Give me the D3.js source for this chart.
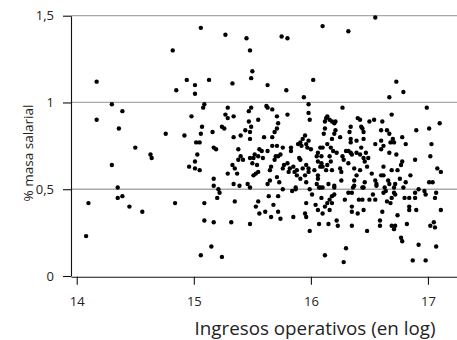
<!DOCTYPE html>
<html><head><meta charset="utf-8">
<script src="https://cdn.jsdelivr.net/npm/d3@7"></script>
<style>body{margin:0;background:#fff}svg{display:block}</style>
</head><body><svg id="c" width="457" height="340"></svg>
<script>
const ingresos = [
14.82,14.17,14.94,14.85,15.01,15.01,15.06,15.27,15.45,15.48,
15.75,15.80,15.50,15.49,15.13,15.33,15.63,16.02,15.79,15.94,
16.55,16.10,16.32,16.73,16.67,16.79,14.30,14.39,14.17,14.98,
14.36,14.76,14.92,14.50,14.63,14.64,14.30,14.96,15.01,15.01,
14.35,14.10,14.35,14.39,14.45,14.56,14.84,14.08,15.09,15.09,
15.17,15.15,15.06,15.24,15.35,15.32,15.48,15.55,15.53,15.56,
15.61,15.64,15.72,15.68,15.66,15.72,15.74,15.85,15.84,15.87,
15.96,15.95,15.96,15.99,16.04,16.06,16.07,15.99,16.01,15.22,
15.20,16.07,16.10,16.09,16.10,16.12,16.16,16.14,16.16,16.18,
16.18,16.20,16.20,16.15,16.22,16.23,16.29,16.32,16.35,16.36,
16.35,16.35,16.40,16.45,16.41,16.44,16.44,16.50,16.53,16.55,
16.56,16.62,16.64,16.63,16.65,16.68,16.69,16.71,16.72,16.71,
16.79,16.61,16.74,16.35,16.48,16.59,16.59,16.69,16.72,16.71,
16.82,16.77,16.78,16.80,16.84,16.84,16.84,16.89,16.89,16.90,
16.92,16.97,16.98,16.92,17.07,17.06,17.11,17.02,17.05,17.06,
17.07,16.30,16.12,16.28,16.87,16.98,15.98,15.09,15.08,15.29,
15.49,15.47,15.62,15.63,15.67,15.27,15.29,15.34,15.55,15.71,
15.80,15.98,15.99,15.47,15.72,15.71,15.69,15.49,15.48,15.48,
15.44,15.40,15.34,15.24,15.26,15.16,15.07,15.06,15.02,15.05,
15.03,15.05,15.17,15.19,15.38,15.40,15.38,15.42,15.48,15.51,
15.52,15.56,15.58,15.60,15.67,15.71,15.76,15.67,15.63,15.59,
15.55,15.54,15.50,15.70,15.72,15.74,15.69,15.66,15.76,15.77,
15.83,15.83,15.80,15.82,15.81,15.85,15.88,15.90,15.91,15.89,
15.91,15.93,15.95,15.96,15.97,15.98,15.92,16.00,15.96,15.93,
15.98,15.98,16.03,16.06,15.95,15.91,15.88,15.86,15.96,15.87,
15.55,15.53,15.51,15.65,15.71,15.73,15.63,15.65,15.33,15.35,
15.29,15.37,15.17,15.17,15.21,15.34,15.39,15.46,15.48,15.76,
16.27,16.99,16.69,16.14,16.13,16.16,16.18,16.20,16.21,16.12,
16.40,16.42,16.50,16.54,16.61,17.10,16.43,16.44,16.45,16.34,
16.12,16.11,16.21,16.20,16.25,16.18,16.33,16.34,16.34,16.39,
16.45,16.60,16.65,16.67,16.90,17.01,16.70,16.68,16.71,16.78,
16.81,16.60,16.55,16.62,16.60,17.03,16.08,16.10,16.06,16.14,
16.17,16.19,16.22,16.30,16.32,16.34,16.35,16.27,16.28,16.32,
16.39,16.42,16.43,16.47,16.49,16.45,16.46,16.48,16.42,16.39,
16.37,16.25,16.26,16.05,16.09,16.06,16.09,16.10,16.08,16.16,
16.17,16.14,16.18,16.13,16.67,16.73,16.62,16.69,16.74,16.77,
16.78,16.85,16.89,17.02,17.08,17.11,16.52,16.60,16.62,16.55,
16.56,16.66,16.67,16.72,16.76,16.81,17.01,17.04,16.46,16.45,
16.37,16.37,16.26,16.20,16.15,16.06,16.05,16.08
];
const masaSalarial = [
1.30,1.12,1.13,1.07,1.10,1.05,1.43,1.39,1.37,1.30,
1.38,1.37,1.18,1.14,1.13,1.11,1.10,1.13,1.07,1.03,
1.49,1.44,1.41,1.12,1.03,1.06,0.99,0.95,0.90,0.92,
0.85,0.82,0.81,0.74,0.70,0.68,0.64,0.63,0.66,0.62,
0.51,0.42,0.45,0.46,0.40,0.37,0.42,0.23,0.42,0.32,
0.31,0.17,0.12,0.11,0.43,0.31,0.30,0.43,0.40,0.36,
0.37,0.46,0.46,0.41,0.34,0.37,0.33,0.34,0.49,0.50,
0.42,0.36,0.34,0.26,0.41,0.38,0.30,0.50,0.47,0.48,
0.45,0.51,0.51,0.45,0.36,0.40,0.38,0.42,0.44,0.46,
0.42,0.47,0.51,0.30,0.32,0.29,0.44,0.48,0.48,0.51,
0.40,0.37,0.36,0.38,0.44,0.44,0.51,0.44,0.47,0.44,
0.52,0.48,0.49,0.51,0.43,0.42,0.45,0.48,0.47,0.51,
0.51,0.37,0.35,0.29,0.26,0.32,0.29,0.29,0.29,0.27,
0.30,0.22,0.20,0.45,0.45,0.40,0.38,0.45,0.48,0.38,
0.50,0.49,0.47,0.18,0.48,0.45,0.38,0.29,0.31,0.28,
0.17,0.16,0.12,0.08,0.09,0.09,0.99,0.99,0.97,0.97,
0.97,0.95,0.98,0.97,0.96,0.93,0.91,0.92,0.90,0.92,
0.93,0.94,0.90,0.89,0.88,0.85,0.83,0.86,0.83,0.79,
0.84,0.81,0.80,0.86,0.85,0.83,0.86,0.82,0.77,0.77,
0.70,0.61,0.74,0.73,0.73,0.69,0.67,0.67,0.68,0.68,
0.70,0.73,0.72,0.80,0.75,0.75,0.74,0.80,0.72,0.68,
0.69,0.64,0.65,0.69,0.69,0.70,0.67,0.63,0.62,0.64,
0.72,0.74,0.65,0.62,0.60,0.63,0.61,0.68,0.67,0.76,
0.77,0.79,0.81,0.76,0.74,0.78,0.75,0.73,0.64,0.62,
0.62,0.60,0.61,0.58,0.58,0.56,0.58,0.60,0.54,0.51,
0.60,0.59,0.58,0.61,0.57,0.54,0.53,0.55,0.64,0.62,
0.59,0.59,0.56,0.52,0.50,0.53,0.52,0.53,0.51,0.50,
0.97,0.97,0.93,0.92,0.91,0.90,0.89,0.88,0.89,0.89,
0.91,0.90,0.89,0.90,0.89,0.88,0.86,0.85,0.83,0.86,
0.85,0.82,0.84,0.82,0.80,0.79,0.83,0.79,0.77,0.78,
0.79,0.84,0.84,0.82,0.84,0.85,0.79,0.77,0.77,0.80,
0.76,0.78,0.76,0.75,0.73,0.76,0.74,0.74,0.71,0.76,
0.74,0.72,0.71,0.72,0.72,0.71,0.70,0.69,0.67,0.65,
0.71,0.70,0.74,0.71,0.68,0.68,0.66,0.63,0.61,0.58,
0.62,0.62,0.60,0.69,0.69,0.66,0.65,0.63,0.63,0.69,
0.66,0.64,0.61,0.61,0.71,0.70,0.63,0.61,0.61,0.64,
0.66,0.58,0.67,0.69,0.62,0.60,0.59,0.58,0.58,0.55,
0.53,0.55,0.53,0.53,0.56,0.54,0.54,0.54,0.54,0.51,
0.55,0.52,0.55,0.52,0.53,0.56,0.53,0.51
];
const xTickValues = [14, 15, 16, 17];
const yTickValues = [0, 0.5, 1, 1.5];
const yTickLabels = ["0", "0,5", "1", "1,5"];
const gridValues = [0.5, 1, 1.5];
const xTitle = "Ingresos operativos (en log)";
const yTitle = "% masa salarial";

const FONT = "'Open Sans', sans-serif";
const svg = d3.select("#c");
const x = d3.scaleLinear().domain([13.951, 17.248]).range([71, 457]);
const y = d3.scaleLinear().domain([0, 1.5]).range([276, 15.7]);

// gridlines
svg.append("g").selectAll("line").data(gridValues).join("line")
  .attr("x1", 71).attr("x2", 457)
  .attr("y1", d => y(d)).attr("y2", d => y(d))
  .attr("stroke", "#a9a9a9").attr("stroke-width", 1.3);

// x axis
const gx = svg.append("g").attr("transform", "translate(0,276.7)")
  .call(d3.axisBottom(x).tickValues(xTickValues).tickSize(8).tickSizeOuter(0).tickPadding(12.5)
    .tickFormat(d3.format("d")));
gx.selectAll("path,line").attr("stroke", "#111").attr("stroke-width", 1.1);
gx.selectAll("text").attr("font-family", FONT).attr("font-size", 13).attr("fill", "#222");

// y axis
const gy = svg.append("g").attr("transform", "translate(71,0)")
  .call(d3.axisLeft(y).tickValues(yTickValues).tickSize(8).tickSizeOuter(0).tickPadding(9)
    .tickFormat((d, i) => yTickLabels[i]));
gy.selectAll("path,line").attr("stroke", "#111").attr("stroke-width", 1.1);
gy.selectAll("text").attr("font-family", FONT).attr("font-size", 13).attr("fill", "#222");

// points
const pts = d3.zip(ingresos, masaSalarial);
svg.append("g").selectAll("circle").data(pts).join("circle")
  .attr("cx", d => x(d[0])).attr("cy", d => y(d[1]))
  .attr("r", 2.2).attr("fill", "#000");

// titles
svg.append("text").attr("x", 315).attr("y", 335)
  .attr("text-anchor", "middle").attr("font-family", FONT).attr("font-size", 18.8)
  .attr("fill", "#222").text(xTitle);
svg.append("text").attr("transform", "translate(33,153) rotate(-90)")
  .attr("text-anchor", "middle").attr("font-family", FONT).attr("font-size", 13.5)
  .attr("fill", "#222").text(yTitle);
</script>
</body></html>
